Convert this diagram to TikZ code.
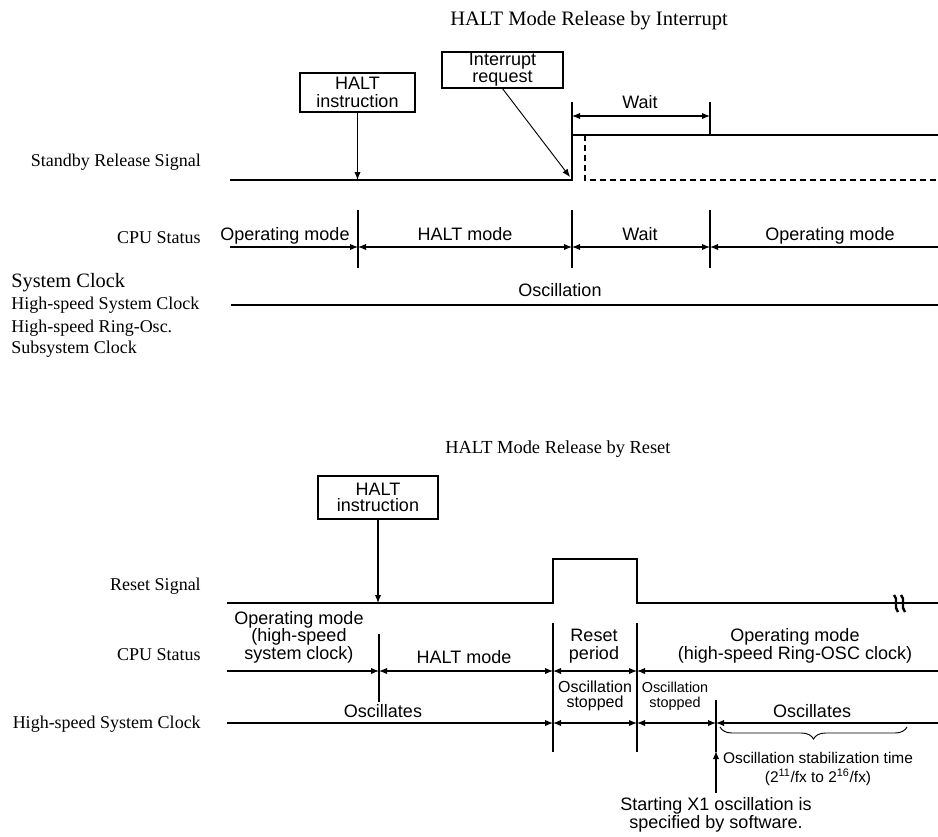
\documentclass[tikz,border=0pt]{standalone}
\usepackage{fontspec}
\setmainfont{Liberation Serif}
\newfontfamily\diagfont{Liberation Sans}
\usetikzlibrary{arrows.meta,decorations.pathreplacing}

\tikzset{
  sig/.style={line width=0.9pt},
  tickline/.style={line width=0.9pt},
  dim/.style={line width=0.9pt,>={Latex[length=6pt,width=4.8pt]}},
  rowlbl/.style={font=\fontsize{13.5}{13.5}\selectfont,anchor=base east,inner sep=0pt},
  txt/.style={font=\diagfont\fontsize{13.5}{12.8}\selectfont,anchor=base,inner sep=0pt,align=center},
  note/.style={font=\diagfont\fontsize{11.6}{14}\selectfont,anchor=base,inner sep=0pt,align=center},
  msgbox/.style={draw,line width=0.9pt,inner sep=0pt,align=center,font=\diagfont\fontsize{13.5}{13.5}\selectfont},
}

\begin{document}
\begin{tikzpicture}[x=0.75pt,y=0.75pt,yscale=-1,xscale=1]
\useasboundingbox (0,0) rectangle (938,836);

%%%%% HALT release by interrupt
\node[anchor=base west,inner sep=0pt,font=\fontsize{15.4}{15.4}\selectfont] (title1) at (450,25) {HALT Mode Release by Interrupt};

% row labels
\node[rowlbl] (lstby) at (201,166) {Standby Release Signal};
\node[rowlbl] (lcpu1) at (201,243) {CPU Status};
\node[anchor=base west,inner sep=0pt,font=\fontsize{15.3}{15.3}\selectfont] (lsys) at (11,287) {System Clock};
\node[anchor=base west,inner sep=0pt,font=\fontsize{13.5}{13.5}\selectfont] (lhs1) at (11,309) {High-speed System Clock};
\node[anchor=base west,inner sep=0pt,font=\fontsize{13.5}{13.5}\selectfont] (lring) at (11,332) {High-speed Ring-Osc.};
\node[anchor=base west,inner sep=0pt,font=\fontsize{13.5}{13.5}\selectfont] (lsub) at (11,353) {Subsystem Clock};

% boxes
\node[msgbox,minimum width=86.25pt,minimum height=29.25pt] (halt1) at (357.5,92.5) {HALT\\instruction};
\node[msgbox,minimum width=90.75pt,minimum height=27pt,font=\diagfont\fontsize{13.5}{10.5}\selectfont] (irq) at (502.5,70) {Interrupt\\request};

% standby release signal
\coordinate (s0) at (230,180);
\coordinate (srise) at (572,180);
\coordinate (shigh) at (572,135);
\coordinate (s1) at (938,135);
\draw[sig] (s0) -- (srise) -- (shigh) -- (s1);
\draw[sig,dash pattern=on 4.5pt off 3pt] (585,135) -- (585,180) -- (938,180);
\coordinate (wtop1) at (572,102);
\coordinate (wtop2) at (710,102);
\draw[tickline] (wtop1) -- (shigh);
\draw[tickline] (wtop2) -- (710,135);
\draw[dim,<->] (572,116) -- (710,116);
\node[txt] (wait1) at (640,108) {Wait};

\draw[dim,->] (halt1.south) -- (halt1.south |- s0);
\coordinate (irqend) at (570,177);
\draw[line width=0.7pt,>={Latex[length=6pt,width=4.8pt]},->] (irq.south) -- (irqend);

% CPU status
\coordinate (c0) at (230,247);
\coordinate (c1) at (358,247);
\coordinate (c2) at (572,247);
\coordinate (c3) at (710,247);
\coordinate (c4) at (938,247);
\foreach \t in {c1,c2,c3}
  \draw[tickline] ([yshift=-27.75pt]\t) -- ([yshift=15.75pt]\t);
\draw[dim,->] (c0) -- (c1);
\draw[dim,<->] (c1) -- (c2);
\draw[dim,<->] (c2) -- (c3);
\draw[dim,<-] (c3) -- (c4);
\node[txt] (op1) at (285,240) {Operating mode};
\node[txt] (hm1) at (465,240) {HALT mode};
\node[txt] (wait2) at (640,240) {Wait};
\node[txt] (op2) at (830,240) {Operating mode};

% system clock
\coordinate (k0) at (231,305);
\coordinate (k1) at (938,305);
\draw[sig] (k0) -- (k1);
\node[txt] (osc1) at (560,296) {Oscillation};

%%%%% HALT release by reset
\node[anchor=base west,inner sep=0pt,font=\fontsize{13.8}{13.8}\selectfont] (title2) at (445,453) {HALT Mode Release by Reset};

\node[rowlbl] (lrst) at (201,590) {Reset Signal};
\node[rowlbl] (lcpu2) at (201,660) {CPU Status};
\node[rowlbl] (lhs2) at (201,728) {High-speed System Clock};

\node[msgbox,minimum width=90pt,minimum height=32.25pt,font=\diagfont\fontsize{13.5}{12}\selectfont] (halt2) at (378,497.5) {HALT\\instruction};

% reset signal
\coordinate (r0) at (227,603);
\coordinate (r1) at (553,603);
\coordinate (r2) at (553,559);
\coordinate (r3) at (637,559);
\coordinate (r4) at (637,603);
\coordinate (r5) at (938,603);
\draw[sig] (r0) -- (r1) -- (r2) -- (r3) -- (r4) -- (r5);
\draw[dim,->] (halt2.south) -- (halt2.south |- r0);
% break mark
\foreach \bx in {896,903}
  \draw[line width=1.8pt] (\bx-2,595) .. controls (\bx+3,599) and (\bx-3,607) .. (\bx+2,612);

% CPU status
\coordinate (p0) at (227,671);
\coordinate (p1) at (379,671);
\coordinate (p2) at (553,671);
\coordinate (p3) at (637,671);
\coordinate (p4) at (938,671);
\draw[tickline] (379,634) -- (379,702);
\draw[tickline] (553,623) -- (553,752);
\draw[tickline] (637,623) -- (637,752);
\draw[dim,->] (p0) -- (p1);
\draw[dim,<->] (p1) -- (p2);
\draw[dim,<->] (p2) -- (p3);
\draw[dim,<-] (p3) -- (p4);
\node[txt] (op3) at (299,659) {Operating mode\\(high-speed\\system clock)};
\node[txt] (hm2) at (464,663) {HALT mode};
\node[txt] (rstp) at (594,659) {Reset\\period};
\node[txt] (op4) at (795,659) {Operating mode\\(high-speed Ring-OSC clock)};

% high-speed system clock
\coordinate (h0) at (227,723);
\coordinate (h1) at (553,723);
\coordinate (h2) at (637,723);
\coordinate (h3) at (716,723);
\coordinate (h4) at (938,723);
\draw[tickline] (716,700) -- (716,752);
\draw[dim,->] (h0) -- (h1);
\draw[dim,<->] (h1) -- (h2);
\draw[dim,<->] (h2) -- (h3);
\draw[dim,<-] (h3) -- (h4);
\node[txt] (osc2) at (383,717) {Oscillates};
\node[txt,font=\diagfont\fontsize{12}{11.25}\selectfont] (stop1) at (595,707) {Oscillation\\stopped};
\node[txt,font=\diagfont\fontsize{10.8}{11.25}\selectfont] (stop2) at (675,707) {Oscillation\\stopped};
\node[txt] (osc3) at (812,717) {Oscillates};

% stabilization
\coordinate (br0) at (720,727);
\coordinate (br1) at (907,727);
\draw[line width=0.7pt,decorate,decoration={brace,mirror,amplitude=9pt}] (br0) -- (br1);
\node[note] (stab) at (818,782) {Oscillation stabilization time\\(2\textsuperscript{11}/fx to 2\textsuperscript{16}/fx)};

\node[txt,font=\diagfont\fontsize{13.5}{13.5}\selectfont] (x1) at (716,828) {Starting X1 oscillation is\\specified by software.};
\coordinate (x1top) at (716,793);
\draw[dim,->] (x1top) -- (716,751);

\end{tikzpicture}
\end{document}
